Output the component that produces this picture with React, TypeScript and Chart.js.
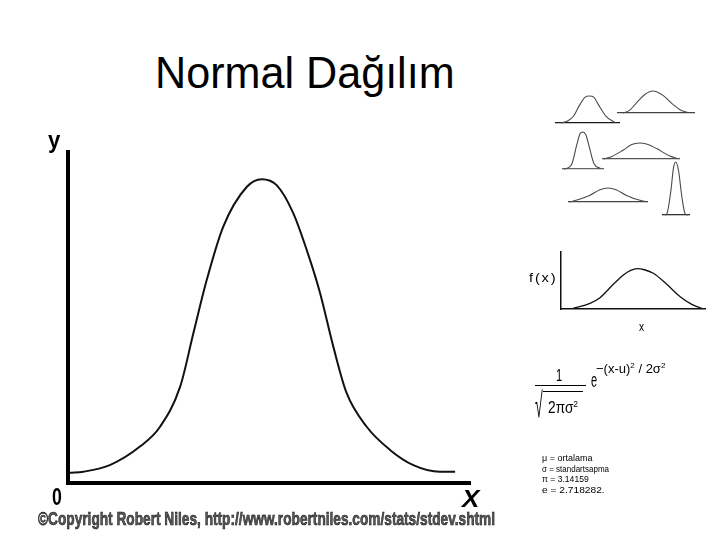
import React, { useEffect, useLayoutEffect, useRef } from "react";
import { Chart, registerables } from "chart.js";

Chart.register(...registerables);

// ---------- data ----------
// main bell curve (x: 0..100 across the x axis, y: 0..100 up the y axis)
const mainX = [0.5, 3.8, 10.4, 17.9, 22.9, 27.9, 31.2, 34.5, 38.6, 44.5, 48.2, 51.9, 56.0, 60.2, 62.7, 66.0, 69.3, 74.3, 80.1, 85.9, 92.5, 96.3];
const mainY = [3.1, 3.4, 5.4, 11.0, 17.0, 29.1, 45.3, 61.3, 77.4, 89.5, 91.8, 90.0, 81.6, 67.4, 57.4, 41.2, 27.2, 17.0, 10.0, 5.4, 3.4, 3.4];

// f(x) sketch
const fxX = [8.7, 20.3, 27.2, 36.5, 43.4, 48.5, 53.0, 58.0, 64.2, 73.5, 82.8, 90.8, 97.7];
const fxY = [1.2, 9.9, 19.7, 43.1, 59.3, 67.5, 70.5, 68.5, 62.3, 43.1, 21.5, 8.2, 1.2];

// six thumbnail curves
const thumb1X = [10, 20, 28, 38, 46, 53, 60, 67, 79, 92];
const thumb1Y = [0, 8, 24, 67, 95, 100, 95, 67, 24, 2];
const thumb2X = [8, 16, 25, 36, 46, 59, 72, 82, 90];
const thumb2Y = [0, 12, 46, 85, 100, 80, 38, 12, 3];
const thumb3X = [4, 16, 24, 36, 43, 50, 57, 64, 76, 92];
const thumb3Y = [0, 4, 15, 69, 95, 100, 92, 64, 15, 1];
const thumb4X = [2, 12, 27, 38, 48, 58, 70, 87, 98];
const thumb4Y = [0, 14, 55, 90, 100, 92, 65, 18, 2];
const thumb5X = [2, 10, 27, 40, 50, 60, 73, 90, 98];
const thumb5Y = [0, 12, 47, 88, 100, 88, 47, 12, 2];
const thumb6X = [10, 18, 32, 41, 49, 59, 71, 82, 92];
const thumb6Y = [0, 3, 47, 89, 100, 84, 34, 3, 0];

const titleText = "Normal Dağılım";
const yLabel = "y";
const zeroLabel = "0";
const xLabel = "X";
const copyrightText = "©Copyright Robert Niles, http://www.robertniles.com/stats/stdev.shtml";
const fxLabel = "f(x)";
const fxAxisLabel = "x";
const legendLines = ["μ = ortalama", "σ = standartsapma", "π = 3.14159", "e = 2.718282."];

// ---------- helpers ----------
const FONT = '"Liberation Sans", Arial, sans-serif';

function pts(xs: number[], ys: number[]) {
  return xs.map((x, i) => ({ x, y: ys[i] }));
}

type Pad = { left: number; top: number; right: number; bottom: number };

type CurveProps = {
  xs: number[];
  ys: number[];
  left: number;
  top: number;
  width: number;
  height: number;
  pad: Pad;
  xBorder: number;
  yBorder: number;
  axisColor: string;
  lineColor: string;
  lineWidth: number;
};

function CurveChart(p: CurveProps) {
  const ref = useRef<HTMLCanvasElement>(null);
  useEffect(() => {
    const chart = new Chart(ref.current!, {
      type: "line",
      data: {
        datasets: [
          {
            data: pts(p.xs, p.ys),
            borderColor: p.lineColor,
            borderWidth: p.lineWidth,
            pointRadius: 0,
            cubicInterpolationMode: "monotone",
            fill: false,
            clip: false as any,
          },
        ],
      },
      options: {
        responsive: false,
        animation: false,
        devicePixelRatio: 1,
        events: [],
        layout: { padding: p.pad },
        plugins: {
          legend: { display: false },
          tooltip: { enabled: false },
          title: { display: false },
        },
        scales: {
          x: {
            type: "linear",
            min: 0,
            max: 100,
            display: p.xBorder > 0,
            ticks: { display: false },
            grid: { display: false, drawTicks: false },
            border: { display: p.xBorder > 0, width: p.xBorder, color: p.axisColor },
          },
          y: {
            type: "linear",
            min: 0,
            max: 100,
            display: p.yBorder > 0,
            ticks: { display: false },
            grid: { display: false, drawTicks: false },
            border: { display: p.yBorder > 0, width: p.yBorder, color: p.axisColor },
          },
        },
      } as any,
    });
    return () => chart.destroy();
  }, []);
  return (
    <canvas
      ref={ref}
      width={p.width}
      height={p.height}
      style={{ position: "absolute", left: p.left, top: p.top, width: p.width, height: p.height }}
    />
  );
}

type TxtProps = {
  left: number;
  baseline: number;
  fs: number;
  width?: number;
  scale?: number;
  weight?: string | number;
  italic?: boolean;
  color?: string;
  extra?: React.CSSProperties;
  children: React.ReactNode;
};

function Txt(p: TxtProps) {
  const ref = useRef<HTMLSpanElement>(null);
  useLayoutEffect(() => {
    const el = ref.current!;
    let s = p.scale ?? 1;
    if (p.width) {
      const w = el.offsetWidth;
      if (w > 0) s = p.width / w;
    }
    el.style.transform = `scaleX(${s})`;
  }, []);
  const top = p.baseline - 0.8465 * p.fs;
  return (
    <span
      ref={ref}
      style={{
        position: "absolute",
        left: p.left,
        top,
        fontFamily: FONT,
        fontSize: p.fs,
        lineHeight: 1,
        fontWeight: p.weight ?? "normal",
        fontStyle: p.italic ? "italic" : "normal",
        color: p.color ?? "#000",
        whiteSpace: "nowrap",
        display: "inline-block",
        transformOrigin: "left center",
        ...(p.extra || {}),
      }}
    >
      {p.children}
    </span>
  );
}

const supStyle: React.CSSProperties = {
  fontSize: "0.62em",
  position: "relative",
  top: "-0.6em",
  verticalAlign: "baseline",
};

type Thumb = { xs: number[]; ys: number[]; left: number; width: number; base: number; h: number; axis: string };

const thumbs: Thumb[] = [
  { xs: thumb1X, ys: thumb1Y, left: 555, width: 65, base: 123, h: 27, axis: "#1a1a1a" },
  { xs: thumb2X, ys: thumb2Y, left: 617, width: 78, base: 113, h: 22, axis: "#444" },
  { xs: thumb3X, ys: thumb3Y, left: 562, width: 42, base: 169, h: 37, axis: "#666" },
  { xs: thumb4X, ys: thumb4Y, left: 602, width: 78, base: 159, h: 16, axis: "#555" },
  { xs: thumb5X, ys: thumb5Y, left: 568, width: 80, base: 202, h: 14, axis: "#444" },
  { xs: thumb6X, ys: thumb6Y, left: 662, width: 28, base: 215, h: 53, axis: "#333" },
];

export default function App() {
  const legendBaselines = [461.7, 472.5, 483, 493.5];
  const legendWidths = [50, 66.7, 46.7, 62.3];
  return (
    <div
      style={{
        position: "absolute",
        left: 0,
        top: 0,
        width: 720,
        height: 540,
        background: "#fff",
        overflow: "hidden",
      }}
    >
      {/* main chart: chart area 68..470 x 152..483 */}
      <CurveChart
        xs={mainX}
        ys={mainY}
        left={0}
        top={140}
        width={490}
        height={360}
        pad={{ left: 68, top: 12, right: 20, bottom: 17 }}
        xBorder={4}
        yBorder={4}
        axisColor="#000"
        lineColor="#111"
        lineWidth={2}
      />

      {/* f(x) sketch: chart area 560.7..705 x 251.7..309 */}
      <CurveChart
        xs={fxX}
        ys={fxY}
        left={550}
        top={245}
        width={165}
        height={70}
        pad={{ left: 10.7, top: 6.7, right: 10, bottom: 6 }}
        xBorder={1.5}
        yBorder={1.5}
        axisColor="#111"
        lineColor="#111"
        lineWidth={1.3}
      />

      {thumbs.map((t, i) => (
        <CurveChart
          key={i}
          xs={t.xs}
          ys={t.ys}
          left={t.left}
          top={t.base - t.h - 2}
          width={t.width}
          height={t.h + 4}
          pad={{ left: 0, top: 2, right: 0, bottom: 2 }}
          xBorder={1.3}
          yBorder={0}
          axisColor={t.axis}
          lineColor="#4a4a4a"
          lineWidth={1.1}
        />
      ))}

      {/* title */}
      <Txt left={155} baseline={88} fs={44} width={300}>
        {titleText}
      </Txt>

      {/* main axis labels */}
      <Txt left={48} baseline={148} fs={24} weight="bold" width={12}>
        {yLabel}
      </Txt>
      <Txt left={51.5} baseline={505} fs={23} weight="bold" width={10}>
        {zeroLabel}
      </Txt>
      <Txt left={461.5} baseline={507} fs={23} weight="bold" italic width={17}>
        {xLabel}
      </Txt>

      {/* copyright */}
      <Txt
        left={38}
        baseline={526}
        fs={18.5}
        weight="bold"
        width={457}
        color="#5a5a5a"
        extra={{ WebkitTextStroke: "0.6px #111" } as React.CSSProperties}
      >
        {copyrightText}
      </Txt>

      {/* f(x) labels */}
      <Txt left={529} baseline={282} fs={12} width={28} extra={{ letterSpacing: "1.5px" }}>
        {fxLabel}
      </Txt>
      <Txt left={639} baseline={331} fs={12} scale={0.85}>
        {fxAxisLabel}
      </Txt>

      {/* formula */}
      <Txt left={556} baseline={381.7} fs={16} scale={0.7}>
        1
      </Txt>
      <div style={{ position: "absolute", left: 535, top: 384.5, width: 51, height: 1.5, background: "#000" }} />
      <Txt left={534.5} baseline={417} fs={35} scale={0.4}>
        √
      </Txt>
      <div style={{ position: "absolute", left: 542.5, top: 391, width: 40, height: 1.2, background: "#000" }} />
      <Txt left={548} baseline={413.3} fs={16} width={30}>
        2πσ<span style={supStyle}>2</span>
      </Txt>
      <Txt left={590.5} baseline={387} fs={20} scale={0.55}>
        e
      </Txt>
      <Txt left={596} baseline={373} fs={13} width={69}>
        −(x-u)<span style={supStyle}>2</span> / 2σ<span style={supStyle}>2</span>
      </Txt>

      {/* legend */}
      {legendLines.map((l, i) => (
        <Txt key={i} left={542} baseline={legendBaselines[i]} fs={9} width={legendWidths[i]}>
          {l}
        </Txt>
      ))}
    </div>
  );
}
